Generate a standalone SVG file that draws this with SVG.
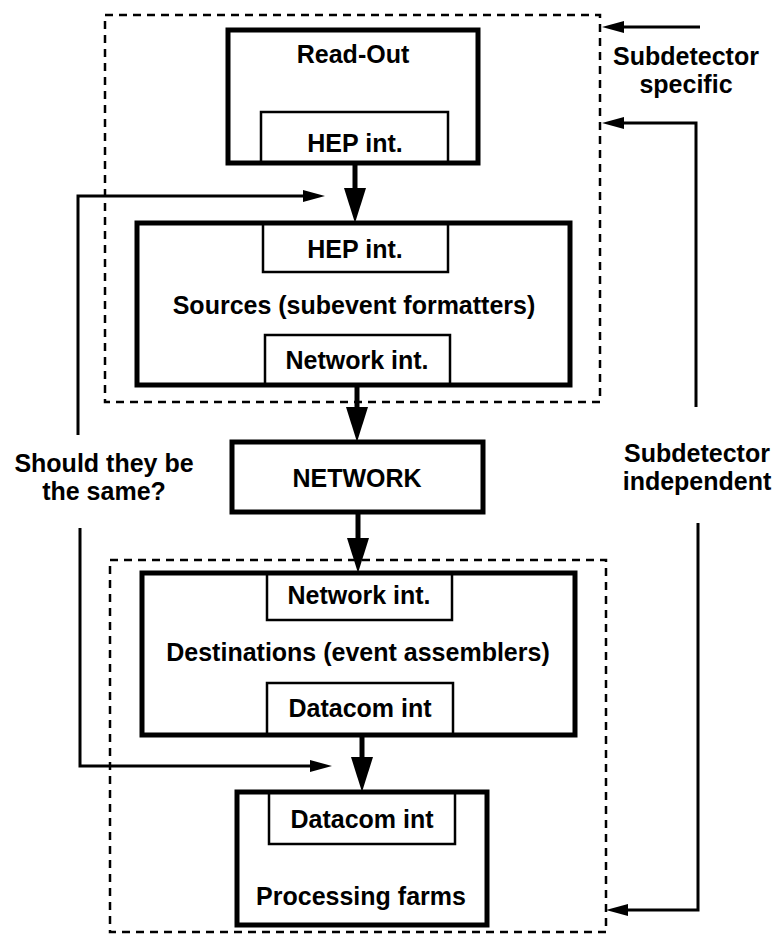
<svg xmlns="http://www.w3.org/2000/svg" width="779" height="941" viewBox="0 0 779 941">
  <style>
    .box{fill:#fff;stroke:#000;stroke-width:5}
    .inner{fill:none;stroke:#000;stroke-width:2.5}
    .lbl{font-family:"Liberation Sans",Arial,Helvetica,sans-serif;font-weight:bold;font-size:25px;text-anchor:middle;fill:#000}
    .dash{fill:none;stroke:#000;stroke-width:2.5;stroke-dasharray:8 6}
    .flow{fill:none;stroke:#000;stroke-width:5}
    .thin{fill:none;stroke:#000;stroke-width:3}
  </style>
  <defs>
    <marker id="bigHead" viewBox="0 0 35 22" markerWidth="35" markerHeight="22" refX="5" refY="11" orient="auto" markerUnits="userSpaceOnUse">
      <path d="M0,0 L35,11 L0,22 z" fill="#000"/>
    </marker>
    <marker id="smallHead" viewBox="0 0 22 12" markerWidth="22" markerHeight="12" refX="3" refY="6" orient="auto" markerUnits="userSpaceOnUse">
      <path d="M0,0 L22,6 L0,12 z" fill="#000"/>
    </marker>
  </defs>

  <!-- grouping frames -->
  <g id="specific-frame">
    <rect class="dash" x="105" y="15" width="495" height="387"/>
  </g>
  <g id="independent-frame">
    <rect class="dash" x="110" y="560" width="496" height="372"/>
  </g>

  <!-- nodes -->
  <g id="readout">
    <rect class="box" x="228" y="30" width="250" height="133"/>
    <rect class="inner" x="261" y="112" width="187" height="51"/>
    <text class="lbl" x="353" y="63">Read-Out</text>
    <text class="lbl" x="355" y="152">HEP int.</text>
  </g>

  <g id="sources">
    <rect class="box" x="137" y="223" width="433" height="162"/>
    <rect class="inner" x="263" y="223" width="185" height="49"/>
    <rect class="inner" x="265" y="335" width="185" height="50"/>
    <text class="lbl" x="355" y="258">HEP int.</text>
    <text class="lbl" x="354" y="314">Sources (subevent formatters)</text>
    <text class="lbl" x="357" y="369">Network int.</text>
  </g>

  <g id="network">
    <rect class="box" x="232" y="442" width="251" height="70"/>
    <text class="lbl" x="357" y="487">NETWORK</text>
  </g>

  <g id="destinations">
    <rect class="box" x="142" y="573" width="433" height="162"/>
    <rect class="inner" x="267" y="573" width="185" height="47"/>
    <rect class="inner" x="267" y="683" width="186" height="52"/>
    <text class="lbl" x="359" y="604">Network int.</text>
    <text class="lbl" x="358" y="661">Destinations (event assemblers)</text>
    <text class="lbl" x="360" y="717">Datacom int</text>
  </g>

  <g id="farms">
    <rect class="box" x="237" y="792" width="250" height="133"/>
    <rect class="inner" x="269" y="792" width="186" height="52"/>
    <text class="lbl" x="362" y="828">Datacom int</text>
    <text class="lbl" x="361" y="905">Processing farms</text>
  </g>

  <!-- side labels -->
  <g id="label-specific">
    <text class="lbl" x="686" y="65">Subdetector</text>
    <text class="lbl" x="686" y="93">specific</text>
  </g>
  <g id="label-independent">
    <text class="lbl" x="697" y="462">Subdetector</text>
    <text class="lbl" x="697" y="490">independent</text>
  </g>
  <g id="label-same">
    <text class="lbl" x="104" y="472">Should they be</text>
    <text class="lbl" x="104" y="500">the same?</text>
  </g>

  <!-- connectors -->
  <g id="connectors">
    <line class="flow" x1="355" y1="163" x2="355" y2="193" marker-end="url(#bigHead)"/>
    <line class="flow" x1="357" y1="385" x2="357" y2="412" marker-end="url(#bigHead)"/>
    <line class="flow" x1="358" y1="512" x2="358" y2="543" marker-end="url(#bigHead)"/>
    <line class="flow" x1="362" y1="735" x2="362" y2="762" marker-end="url(#bigHead)"/>

    <path class="thin" d="M78,435 L78,196 L306,196" marker-end="url(#smallHead)"/>
    <path class="thin" d="M80,528 L80,766 L313,766" marker-end="url(#smallHead)"/>

    <path class="thin" d="M700,27 L621,27" marker-end="url(#smallHead)"/>
    <path class="thin" d="M696,407 L696,123 L621,123" marker-end="url(#smallHead)"/>
    <path class="thin" d="M698,523 L698,910 L625,910" marker-end="url(#smallHead)"/>
  </g>
</svg>
